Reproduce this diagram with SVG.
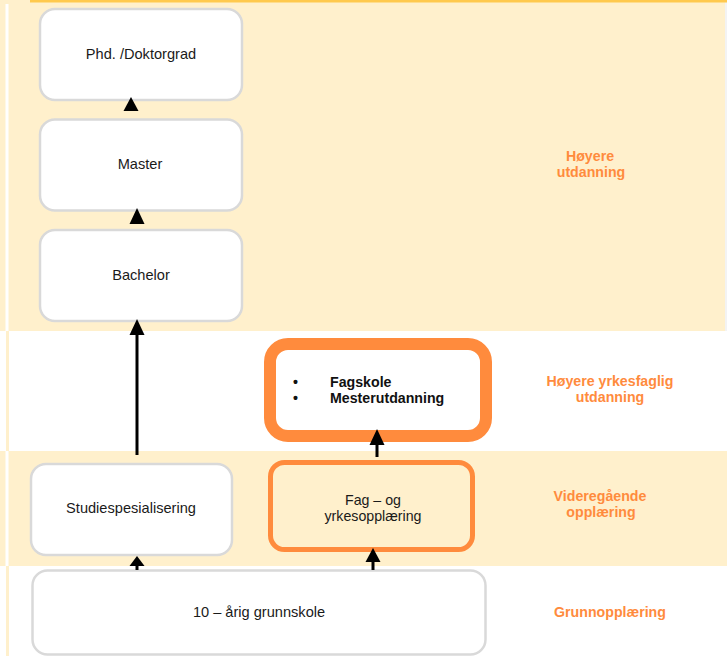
<svg xmlns="http://www.w3.org/2000/svg" width="727" height="656" viewBox="0 0 727 656">
<defs>
<style>
.box{fill:#fff;stroke:#d9d9d9;stroke-width:2.5}
.t{font-family:"Liberation Sans",Arial,sans-serif;font-size:14.6px;fill:#1a1a1a;text-anchor:middle}
.t2{font-family:"Liberation Sans",Arial,sans-serif;font-size:14.2px;fill:#1a1a1a;text-anchor:middle}
.b{font-family:"Liberation Sans",Arial,sans-serif;font-size:14.2px;font-weight:bold;fill:#111}
.lab{font-family:"Liberation Sans",Arial,sans-serif;font-size:14.2px;font-weight:bold;fill:#ff8b3d;text-anchor:middle}
.ln{stroke:#000;stroke-width:3;fill:none}
</style>
</defs>
<g id="bands">
<rect x="0" y="0" width="727" height="656" fill="#fff"/>
<rect x="0" y="2" width="725" height="329" fill="#fff0cc"/>
<rect x="725" y="2" width="2" height="329" fill="#f3f3f3"/>
<rect x="30" y="0" width="697" height="2.5" fill="#ffc94d"/>
<rect x="0" y="0" width="30" height="4" fill="#fff0cc"/>
<rect x="0" y="451" width="727" height="115" fill="#fff0cc"/>
<rect x="5.5" y="4" width="3" height="327" fill="#fff"/>
<rect x="5.5" y="451" width="3" height="115" fill="#fff"/>
<rect x="6" y="331" width="3" height="120" fill="#fff0cc"/>
<rect x="6" y="566" width="3" height="90" fill="#fff0cc"/>
</g>
<g id="phd">
<rect class="box" x="40" y="9" width="202" height="91" rx="15"/>
<text class="t" x="141" y="59">Phd. /Doktorgrad</text>
</g>
<g id="master">
<rect class="box" x="40" y="119.5" width="202" height="91" rx="15"/>
<text class="t" x="140" y="169">Master</text>
</g>
<g id="bachelor">
<rect class="box" x="40" y="230" width="202" height="91" rx="15"/>
<text class="t" x="141" y="280">Bachelor</text>
</g>
<g id="fagskole">
<rect x="270" y="344" width="216" height="92" rx="18" style="fill:#fff;stroke:#ff8b3d;stroke-width:12"/>
<text class="b"><tspan x="293" y="387">•</tspan><tspan x="330" y="387">Fagskole</tspan><tspan x="293" y="403">•</tspan><tspan x="330" y="403">Mesterutdanning</tspan></text>
</g>
<g id="studie">
<rect class="box" x="31" y="464" width="201" height="91" rx="15"/>
<text class="t" x="131" y="513">Studiespesialisering</text>
</g>
<g id="fag">
<rect x="270.5" y="462.5" width="202" height="87" rx="14" style="fill:#fff0cc;stroke:#ff8b3d;stroke-width:5"/>
<text class="t2"><tspan x="373" y="505">Fag – og</tspan><tspan x="373" y="521">yrkesopplæring</tspan></text>
</g>
<g id="grunnskole">
<rect class="box" x="32.5" y="570.5" width="453" height="84" rx="15"/>
<text class="t" x="259" y="617">10 – årig grunnskole</text>
</g>
<g id="connectors">
<polygon points="131,97 123.5,111 138.5,111" fill="#000"/>
<polygon points="137,208 129.5,224 144.5,224" fill="#000"/>
<line class="ln" x1="137" y1="455" x2="137" y2="330"/>
<polygon points="137,319 129.5,335 144.5,335" fill="#000"/>
<line class="ln" x1="377" y1="457" x2="377" y2="440"/>
<polygon points="377,429 369.5,445 384.5,445" fill="#000"/>
<line class="ln" x1="137" y1="570" x2="137" y2="562"/>
<polygon points="137,556 129.5,566 144.5,566" fill="#000"/>
<line class="ln" x1="373" y1="570" x2="373" y2="558"/>
<polygon points="373,548 365.5,562 380.5,562" fill="#000"/>
</g>
<g id="labels">
<text class="lab"><tspan x="590" y="161">Høyere</tspan><tspan x="591" y="177">utdanning</tspan></text>
<text class="lab"><tspan x="610" y="386">Høyere yrkesfaglig</tspan><tspan x="610" y="402">utdanning</tspan></text>
<text class="lab"><tspan x="600" y="501">Videregående</tspan><tspan x="601" y="517">opplæring</tspan></text>
<text class="lab" x="610" y="617">Grunnopplæring</text>
</g>
</svg>
